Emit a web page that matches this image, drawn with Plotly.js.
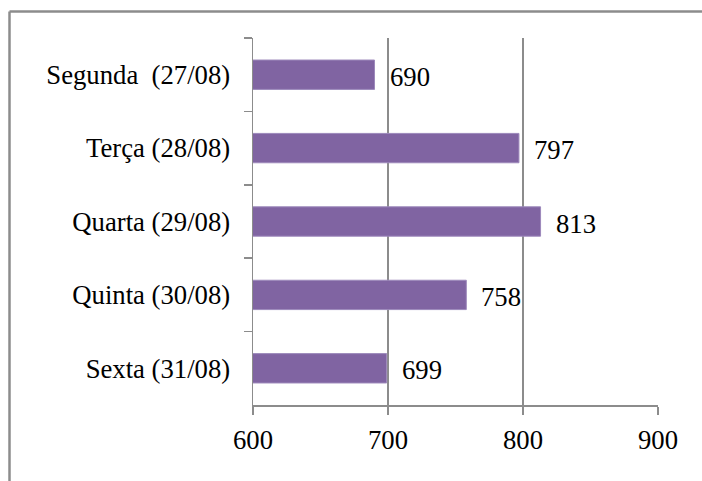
<!DOCTYPE html>
<html>
<head>
<meta charset="utf-8">
<script src="https://cdn.plot.ly/plotly-3.0.1.min.js"></script>
<style>
  html, body { margin: 0; padding: 0; background: #fff; }
  #chart { width: 702px; height: 481px; }
</style>
</head>
<body>
<div id="chart"></div>
<script>
// Visitors per weekday
const days = ['Segunda  (27/08)', 'Terça (28/08)', 'Quarta (29/08)', 'Quinta (30/08)', 'Sexta (31/08)'];
const counts = [690, 797, 813, 758, 699];
const xTicks = [600, 700, 800, 900];

const W = 702, H = 481;
const M = { l: 253, r: 44, t: 38, b: 76 };
const pw = W - M.l - M.r, ph = H - M.t - M.b;
// convert page pixels into paper coordinates for the outer frame
const px = v => (v - M.l) / pw;
const py = v => 1 - (v - M.t) / ph;

const serif = 'Liberation Serif';
const fs = 26.7;
const grey = '#8c8c8c';

const trace = {
  type: 'bar',
  orientation: 'h',
  y: days,
  x: counts,
  base: 0,
  width: 0.4,
  marker: { color: '#8064A2', line: { color: '#9d89bb', width: 1 } },
  hoverinfo: 'none'
};

const annotations = counts.map((v, i) => ({
  x: v, y: days[i], xref: 'x', yref: 'y',
  text: String(v), showarrow: false,
  xanchor: 'left', yanchor: 'middle',
  xshift: 13, yshift: -2,
  font: { family: serif, size: fs, color: '#000' }
}));

const layout = {
  width: W, height: H,
  margin: M,
  paper_bgcolor: '#fff', plot_bgcolor: '#fff',
  showlegend: false,
  font: { family: serif, color: '#000' },
  xaxis: {
    range: [600, 900],
    tickvals: xTicks,
    ticktext: xTicks.map(String),
    showgrid: true, gridcolor: grey, gridwidth: 1.5,
    showline: true, linecolor: grey, linewidth: 1.5,
    ticks: 'outside', ticklen: 8, tickcolor: grey, tickwidth: 1.5,
    ticklabelstandoff: 2,
    tickfont: { family: serif, size: fs, color: '#000' },
    zeroline: false, fixedrange: true
  },
  yaxis: {
    type: 'category',
    autorange: 'reversed',
    showgrid: false,
    showline: true, linecolor: grey, linewidth: 1.5,
    ticks: 'outside', ticklen: 8, tickcolor: grey, tickwidth: 1.5,
    tickson: 'boundaries',
    ticklabelstandoff: 16,
    tickfont: { family: serif, size: fs, color: '#000' },
    fixedrange: true
  },
  annotations: annotations,
  shapes: [
    { type: 'line', xref: 'paper', yref: 'paper', x0: px(9.5), x1: px(9.5), y0: py(11.5), y1: py(H + 5),
      line: { color: grey, width: 2.5 } },
    { type: 'line', xref: 'paper', yref: 'paper', x0: px(9.5), x1: px(W + 5), y0: py(11.5), y1: py(11.5),
      line: { color: grey, width: 2.5 } }
  ]
};

Plotly.newPlot('chart', [trace], layout, { displayModeBar: false, staticPlot: true });
</script>
</body>
</html>
